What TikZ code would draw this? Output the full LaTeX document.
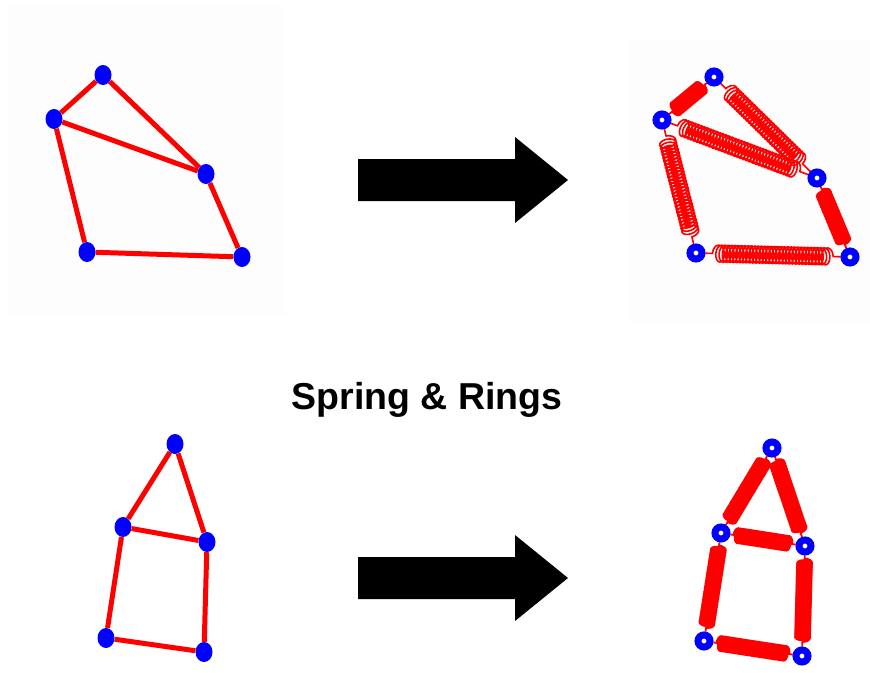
\documentclass[tikz,border=0pt]{standalone}
\usepackage{fontspec}
\newfontfamily\labelfont{Liberation Sans}
\usetikzlibrary{shapes.geometric,decorations.pathmorphing,backgrounds}
\tikzset{
  joint/.style={ellipse,fill=blue,inner sep=0pt,minimum width=17pt,minimum height=20pt},
  ring/.style={circle,draw=blue,line width=7pt,fill=white,inner sep=0pt,minimum size=12pt},
  bar/.style={red,line width=5pt},
  loose/.style={red,line width=1.6pt,decorate,
    decoration={coil,aspect=0.6,segment length=3.3pt,amplitude=8.5pt,pre length=7pt,post length=7pt}},
  tight/.style={red,line width=1.8pt,decorate,
    decoration={coil,aspect=0.5,segment length=1.6pt,amplitude=7.5pt,pre length=3pt,post length=3pt}},
  panel/.style={fill=black!0.7,draw=none}
}

\begin{document}
\begin{tikzpicture}[x=1pt,y=-1pt]
\useasboundingbox (0,0) rectangle (870,672);

% top row: bar frame and its spring version
\node[joint] (a1) at (103,75) {};
\node[joint] (b1) at (54,119) {};
\node[joint] (c1) at (206,174) {};
\node[joint] (d1) at (87,252) {};
\node[joint] (e1) at (242,257) {};

\node[ring] (a2) at (714,77) {};
\node[ring] (b2) at (662,120) {};
\node[ring] (c2) at (817,178) {};
\node[ring] (d2) at (696,253) {};
\node[ring] (e2) at (850,257) {};

% bottom row: house frame and its spring version
\node[joint] (p1) at (175,444) {};
\node[joint] (q1) at (123,527) {};
\node[joint] (r1) at (207,542) {};
\node[joint] (s1) at (106,638) {};
\node[joint] (t1) at (204,652) {};

\node[ring] (p2) at (772,448) {};
\node[ring] (q2) at (721,533) {};
\node[ring] (r2) at (805,546) {};
\node[ring] (s2) at (704,641) {};
\node[ring] (t2) at (802,656) {};

\node[font=\labelfont\bfseries\fontsize{37.5}{42}\selectfont] (title) at (427,400) {Spring \& Rings};

\begin{pgfonlayer}{background}
\fill[panel] (8,6) rectangle (285,315);
\fill[panel] (629,40) rectangle (870,322);
\foreach \u/\v in {a1/b1,a1/c1,b1/c1,b1/d1,c1/e1,d1/e1,
                   p1/q1,p1/r1,q1/r1,q1/s1,r1/t1,s1/t1}
  \draw[bar] (\u) -- (\v);
\foreach \u/\v in {a2/c2,b2/c2,b2/d2,d2/e2}
  \draw[loose] (\u) -- (\v);
\foreach \u/\v in {a2/b2,c2/e2,p2/q2,p2/r2,q2/r2,q2/s2,r2/t2,s2/t2}
  \draw[tight] (\u) -- (\v);
\end{pgfonlayer}

% block arrows
\foreach \ay in {180,578}
  \fill (358,{\ay-21}) -- (515,{\ay-21}) -- (515,{\ay-43}) -- (568,\ay)
        -- (515,{\ay+43}) -- (515,{\ay+21}) -- (358,{\ay+21}) -- cycle;
\end{tikzpicture}
\end{document}
